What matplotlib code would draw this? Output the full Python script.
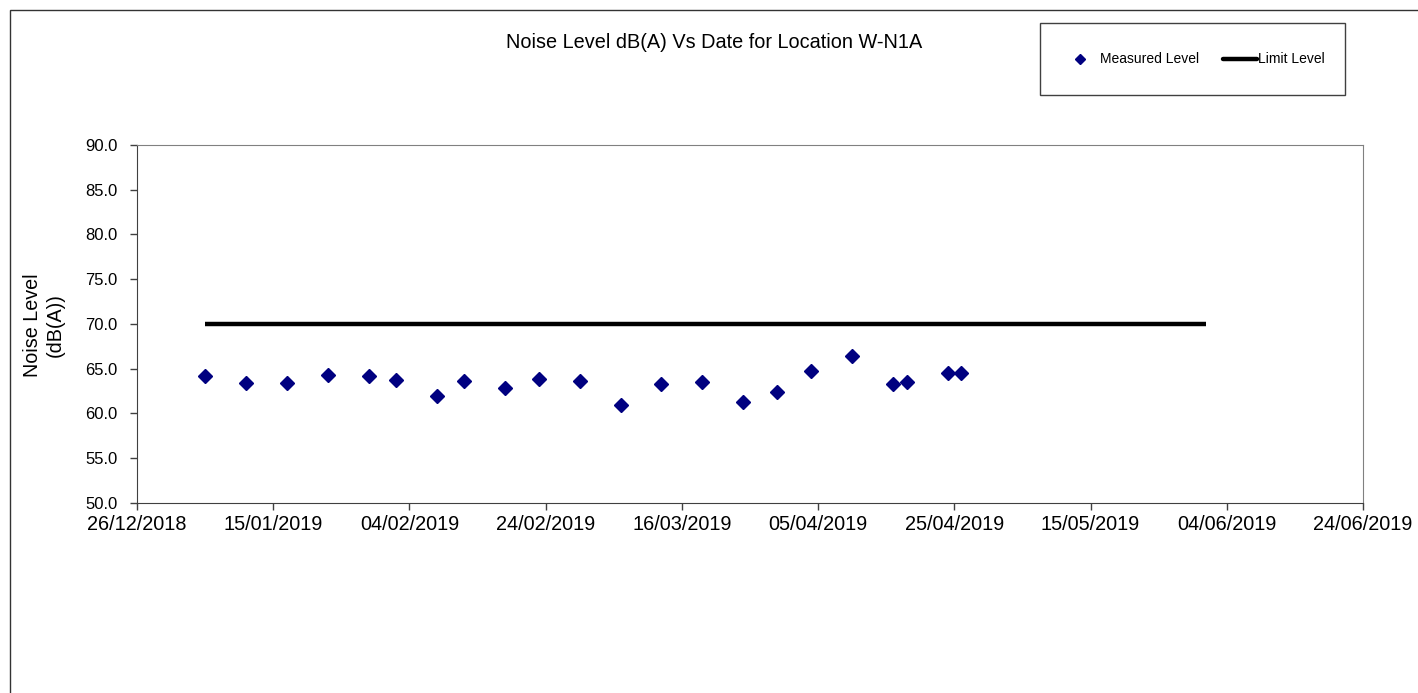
import matplotlib
matplotlib.use("Agg")
import matplotlib.pyplot as plt
from matplotlib.lines import Line2D
from matplotlib.patches import Rectangle
import pandas as pd

plt.rcParams["font.family"] = ["Liberation Sans", "DejaVu Sans"]

# measured noise levels, dB(A)
dates = ["05/01/2019", "11/01/2019", "17/01/2019", "23/01/2019", "29/01/2019",
         "02/02/2019", "08/02/2019", "12/02/2019", "18/02/2019", "23/02/2019",
         "01/03/2019", "07/03/2019", "13/03/2019", "19/03/2019", "25/03/2019",
         "30/03/2019", "04/04/2019", "10/04/2019", "16/04/2019", "18/04/2019",
         "24/04/2019", "26/04/2019"]
levels = [64.2, 63.4, 63.4, 64.3, 64.2, 63.7, 62.0, 63.6, 62.9, 63.9, 63.6,
          60.9, 63.3, 63.5, 61.3, 62.4, 64.7, 66.4, 63.3, 63.5, 64.5, 64.5]

limit_dates = ["05/01/2019", "01/06/2019"]
limit_levels = [70.0, 70.0]

tick_labels = ["26/12/2018", "15/01/2019", "04/02/2019", "24/02/2019",
               "16/03/2019", "05/04/2019", "25/04/2019", "15/05/2019",
               "04/06/2019", "24/06/2019"]
y_ticks = [50, 55, 60, 65, 70, 75, 80, 85, 90]

FMT = "%d/%m/%Y"
W, H = 1418, 693


def fx(x):
    return x / W


def fy(y):
    return 1 - y / H


fig = plt.figure(figsize=(W / 100, H / 100), dpi=100)
fig.patch.set_facecolor("white")

# chart-area border (runs off the right/bottom of the image)
fig.add_artist(Rectangle((fx(9.5), fy(1000)), 2.0, fy(10) - fy(1000),
                         transform=fig.transFigure, fill=False,
                         edgecolor="#333333", lw=1.0))

ax = fig.add_axes([fx(137), fy(503), fx(1363) - fx(137), fy(145) - fy(503)])

x_meas = pd.to_datetime(dates, format=FMT)
x_lim = pd.to_datetime(limit_dates, format=FMT)
ticks = pd.to_datetime(tick_labels, format=FMT)

ax.plot(x_meas, levels, linestyle="none", marker="D", markersize=6.8,
        color="#000080", zorder=3)
ax.plot(x_lim, limit_levels, color="black", lw=3.2, solid_capstyle="butt",
        zorder=2)

ax.set_xlim(ticks[0], ticks[-1])
ax.set_ylim(50, 90)
ax.set_xticks(ticks)
ax.set_xticklabels(tick_labels, fontsize=14.3)
ax.set_yticks(y_ticks)
ax.set_yticklabels([f"{v:.1f}" for v in y_ticks], fontsize=12)
ax.tick_params(axis="both", direction="out", length=5, width=1,
               color="#404040")
ax.tick_params(axis="x", pad=4)
ax.tick_params(axis="y", pad=9)

for side in ("left", "bottom"):
    ax.spines[side].set_color("#404040")
for side in ("top", "right"):
    ax.spines[side].set_color("#808080")

fig.text(fx(44), fy(325), "Noise Level\n(dB(A))", rotation=90, ha="center",
         va="center", multialignment="center", fontsize=14.2,
         linespacing=1.3)

fig.text(fx(714), fy(42), "Noise Level dB(A) Vs Date for Location W-N1A",
         ha="center", va="center", fontsize=14.3)

# legend box
fig.add_artist(Rectangle((fx(1040), fy(95)), fx(1345) - fx(1040),
                         fy(23) - fy(95), transform=fig.transFigure,
                         fill=False, edgecolor="#404040", lw=1.0))
fig.add_artist(Line2D([fx(1080)], [fy(59)], transform=fig.transFigure,
                      marker="D", markersize=5, color="#000080",
                      linestyle="none"))
fig.text(fx(1100), fy(59), "Measured Level", ha="left", va="center",
         fontsize=10)
fig.add_artist(Line2D([fx(1223), fx(1257)], [fy(59), fy(59)],
                      transform=fig.transFigure, color="black", lw=3.2,
                      solid_capstyle="round"))
fig.text(fx(1258), fy(59), "Limit Level", ha="left", va="center",
         fontsize=10)

fig.savefig("out.png", dpi=100, facecolor="white")
